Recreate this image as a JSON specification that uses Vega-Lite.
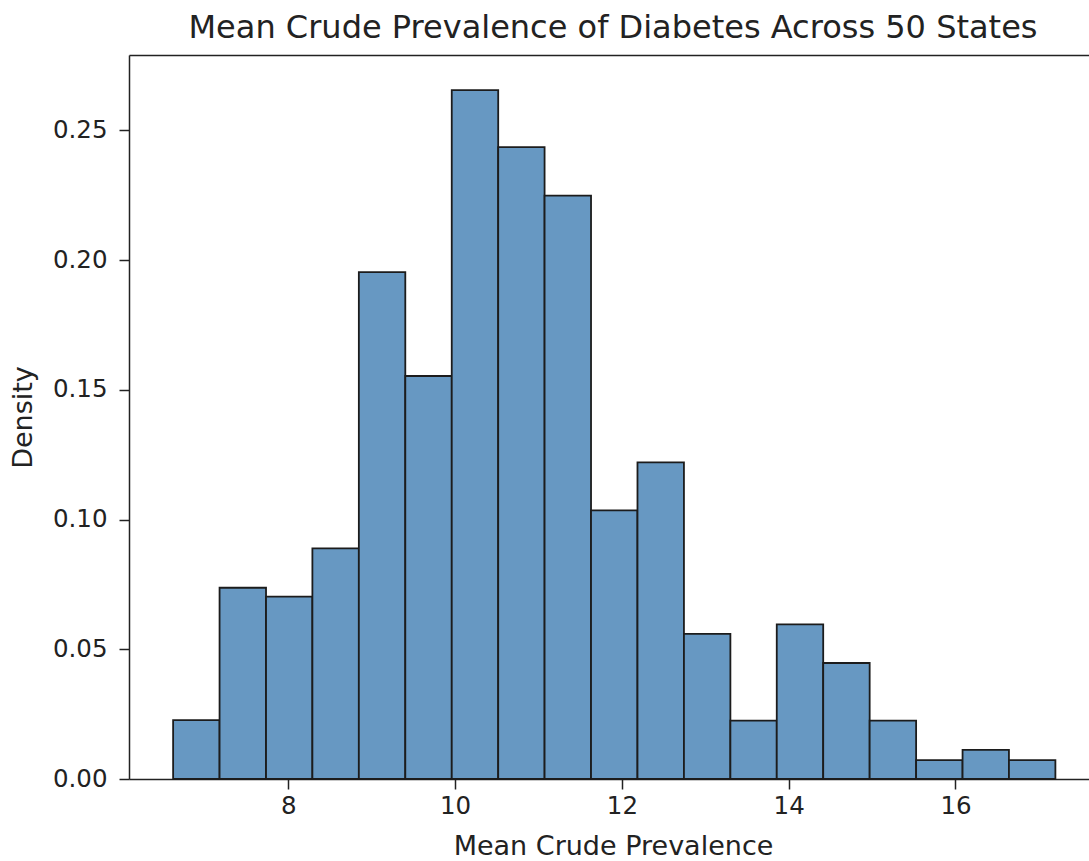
{
  "$schema": "https://vega.github.io/schema/vega-lite/v6.json",
  "width": 960,
  "height": 724,
  "autosize": {"type": "none"},
  "padding": {"left": 129, "top": 55, "right": 0, "bottom": 82},
  "background": "white",
  "config": {
    "view": {"stroke": null},
    "font": "DejaVu Sans",
    "axis": {"grid": false, "domainColor": "#222", "tickColor": "#222", "labelColor": "#222", "titleColor": "#222", "labelFont": "DejaVu Sans", "titleFont": "DejaVu Sans", "titleFontWeight": "normal", "domainWidth": 1.5, "tickWidth": 1.5}
  },
  "title": {"text": "Mean Crude Prevalence of Diabetes Across 50 States", "font": "DejaVu Sans", "fontSize": 32, "fontWeight": "normal", "color": "#222", "anchor": "middle", "frame": "group", "baseline": "alphabetic", "offset": -15, "dx": 4},
  "data": {"values": [
    {"bin_start": 6.619, "bin_end": 7.176, "density": 0.0227},
    {"bin_start": 7.176, "bin_end": 7.733, "density": 0.0737},
    {"bin_start": 7.733, "bin_end": 8.289, "density": 0.0703},
    {"bin_start": 8.289, "bin_end": 8.846, "density": 0.0889},
    {"bin_start": 8.846, "bin_end": 9.403, "density": 0.1953},
    {"bin_start": 9.403, "bin_end": 9.960, "density": 0.1553},
    {"bin_start": 9.960, "bin_end": 10.517, "density": 0.2655},
    {"bin_start": 10.517, "bin_end": 11.073, "density": 0.2435},
    {"bin_start": 11.073, "bin_end": 11.630, "density": 0.2248},
    {"bin_start": 11.630, "bin_end": 12.187, "density": 0.1035},
    {"bin_start": 12.187, "bin_end": 12.744, "density": 0.1220},
    {"bin_start": 12.744, "bin_end": 13.301, "density": 0.0559},
    {"bin_start": 13.301, "bin_end": 13.857, "density": 0.0225},
    {"bin_start": 13.857, "bin_end": 14.414, "density": 0.0596},
    {"bin_start": 14.414, "bin_end": 14.971, "density": 0.0447},
    {"bin_start": 14.971, "bin_end": 15.528, "density": 0.0225},
    {"bin_start": 15.528, "bin_end": 16.085, "density": 0.0073},
    {"bin_start": 16.085, "bin_end": 16.641, "density": 0.0112},
    {"bin_start": 16.641, "bin_end": 17.198, "density": 0.0073}
  ]},
  "layer": [
    {
      "mark": {"type": "bar", "fill": "#6798c2", "stroke": "#1c1c1c", "strokeWidth": 1.8, "opacity": 1},
      "encoding": {
        "x": {"field": "bin_start", "type": "quantitative",
          "scale": {"domain": [6.09, 17.601], "nice": false, "zero": false},
          "axis": {"values": [8, 10, 12, 14, 16], "labelFontSize": 24.5, "tickSize": 10, "labelPadding": 5, "title": "Mean Crude Prevalence", "titleFontSize": 27, "titlePadding": 16, "titleX": 484}},
        "x2": {"field": "bin_end"},
        "y": {"field": "density", "type": "quantitative",
          "scale": {"domain": [0, 0.279], "nice": false},
          "axis": {"values": [0, 0.05, 0.1, 0.15, 0.2, 0.25], "format": ".2f", "labelFontSize": 24.5, "tickSize": 10, "labelPadding": 12, "title": "Density", "titleFontSize": 27, "titlePadding": 15}},
        "y2": {"datum": 0}
      }
    },
    {
      "mark": {"type": "bar", "opacity": 0},
      "encoding": {
        "x": {"field": "bin_start", "type": "quantitative",
          "axis": {"orient": "top", "labels": false, "ticks": false, "title": null}},
        "x2": {"field": "bin_end"},
        "y": {"field": "density", "type": "quantitative"},
        "y2": {"datum": 0}
      }
    }
  ],
  "resolve": {"axis": {"x": "independent"}}
}
